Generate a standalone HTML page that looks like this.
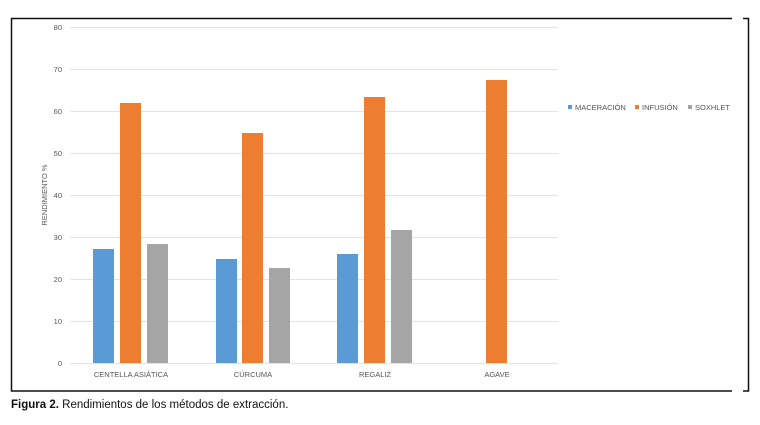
<!DOCTYPE html>
<html><head><meta charset="utf-8"><style>
body{margin:0;background:#fff;width:760px;height:420px;overflow:hidden;font-family:"Liberation Sans",sans-serif}
</style></head><body>
<svg width="760" height="420" xmlns="http://www.w3.org/2000/svg" font-family="Liberation Sans, sans-serif">
<g stroke="#111" stroke-width="1.5" fill="none">
<path d="M11 18.5H732M743 18.5H748.5V391H743M732 391H11.5V18"/>
</g>
<g stroke="#e3e3e3" stroke-width="1">
<line x1="70" x2="558" y1="27.5" y2="27.5"/><line x1="70" x2="558" y1="69.5" y2="69.5"/>
<line x1="70" x2="558" y1="111.5" y2="111.5"/><line x1="70" x2="558" y1="153.5" y2="153.5"/>
<line x1="70" x2="558" y1="195.5" y2="195.5"/><line x1="70" x2="558" y1="237.5" y2="237.5"/>
<line x1="70" x2="558" y1="279.5" y2="279.5"/><line x1="70" x2="558" y1="321.5" y2="321.5"/>
<line x1="70" x2="558" y1="363.5" y2="363.5"/>
</g>
<g font-size="7.5" fill="#555" text-anchor="end">
<text x="62" y="30">80</text><text x="62" y="72">70</text><text x="62" y="114">60</text>
<text x="62" y="156">50</text><text x="62" y="198">40</text><text x="62" y="240">30</text>
<text x="62" y="282">20</text><text x="62" y="324">10</text><text x="62" y="366">0</text>
</g>
<text transform="translate(47,195) rotate(-90)" font-size="7.5" fill="#555" text-anchor="middle">RENDIMIENTO %</text>
<g fill="#5b9bd5">
<rect x="93" y="249" width="21" height="114"/><rect x="216" y="259" width="21" height="104"/><rect x="337" y="254" width="21" height="109"/>
</g>
<g fill="#ed7d31">
<rect x="120" y="103" width="21" height="260"/><rect x="242" y="133" width="21" height="230"/><rect x="364" y="97" width="21" height="266"/><rect x="486" y="80" width="21" height="283"/>
</g>
<g fill="#a5a5a5">
<rect x="147" y="244" width="21" height="119"/><rect x="269" y="268" width="21" height="95"/><rect x="391" y="230" width="21" height="133"/>
</g>
<g font-size="7.5" fill="#555" text-anchor="middle">
<text x="131" y="377">CENTELLA ASIÁTICA</text><text x="253" y="377">CÚRCUMA</text>
<text x="375" y="377">REGALIZ</text><text x="497" y="377">AGAVE</text>
</g>
<g font-size="7.5" fill="#555">
<rect x="568" y="105" width="4" height="4" fill="#5b9bd5"/><text x="575" y="110">MACERACIÓN</text>
<rect x="635" y="105" width="4" height="4" fill="#ed7d31"/><text x="642" y="110">INFUSIÓN</text>
<rect x="688" y="105" width="4" height="4" fill="#a5a5a5"/><text x="695" y="110">SOXHLET</text>
</g>
<text x="11" y="408" font-size="11.5" fill="#111"><tspan font-weight="bold">Figura 2.</tspan> Rendimientos de los métodos de extracción.</text>
</svg>
</body></html>
